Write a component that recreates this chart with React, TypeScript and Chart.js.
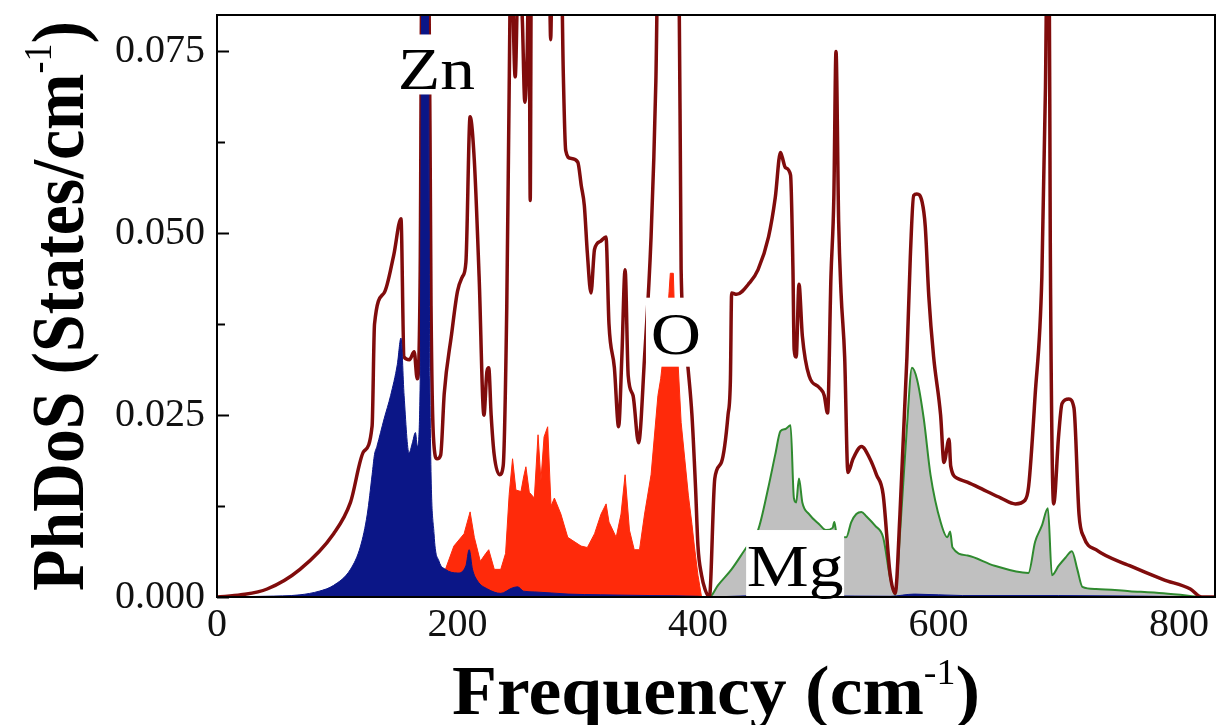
import React, { useEffect, useRef } from 'react';
import { Chart, registerables } from 'chart.js';

Chart.register(...registerables);

// ---------- Data (frequency in cm^-1, PhDoS in states/cm^-1) ----------
const totalFreq = [
  0, 20, 41.7, 69, 97, 111, 122, 129, 131, 139,
  147, 153, 155.5, 160, 164, 166.5, 169, 170.5, 176, 178,
  180, 183, 186, 189, 195, 200, 204, 207, 210.5, 214,
  218, 222, 224.5, 226, 228, 230.5, 235, 238, 241, 243,
  244.5, 248, 251, 254, 256, 258, 259.5, 260.5, 261.5, 276,
  277.5, 279, 286, 288, 290, 294, 300, 303, 305.5, 308,
  311, 314, 319, 323.5, 326, 330.5, 334, 336.7, 339.4, 342,
  346, 350.6, 355.6, 361, 365, 367, 384, 386, 389, 392,
  395, 398, 400, 403, 406, 409.5, 414, 419.5, 425, 427,
  428, 432, 443, 450, 458.7, 464.3, 468.6, 470, 472.8, 477,
  479, 480, 481.7, 484, 486.8, 492.4, 500.8, 505, 507.8, 510.6,
  513, 514.8, 517, 519, 522, 524.7, 529, 536, 543, 548.5,
  554, 559.7, 564, 568, 573.8, 576.6, 579.4, 582, 586.4, 589,
  592, 596, 601.8, 604.6, 608.8, 610.2, 616, 624, 638, 652,
  664, 672, 675, 680.4, 686, 689, 690.5, 692, 693, 695.8,
  700, 702.8, 708.5, 712.7, 716.9, 721, 731, 759, 787, 809.5,
  819, 830,
];
const totalDos = [
  0, 0.0003, 0.0011, 0.0038, 0.0087, 0.013, 0.02, 0.0235, 0.0375, 0.0418,
  0.047, 0.052, 0.033, 0.0326, 0.0337, 0.03, 0.045, 0.09, 0.09, 0.04,
  0.022, 0.019, 0.0195, 0.028, 0.036, 0.042, 0.044, 0.046, 0.066, 0.06,
  0.044, 0.025, 0.031, 0.0315, 0.025, 0.0196, 0.0168, 0.018, 0.04, 0.07,
  0.09, 0.0715, 0.09, 0.079, 0.068, 0.075, 0.09, 0.0545, 0.09, 0.09,
  0.0766, 0.09, 0.09, 0.072, 0.0614, 0.0603, 0.0598, 0.0565, 0.0538, 0.0473,
  0.0418, 0.0478, 0.0489, 0.0495, 0.0375, 0.0315, 0.0234, 0.033, 0.045, 0.0304,
  0.0277, 0.0212, 0.033, 0.0495, 0.071, 0.09, 0.09, 0.045, 0.036, 0.031,
  0.025, 0.015, 0.007, 0.003, 0.001, 0, 0.0163, 0.0185, 0.025, 0.03,
  0.0418, 0.0416, 0.0432, 0.045, 0.0495, 0.0549, 0.0611, 0.0605, 0.059, 0.058,
  0.045, 0.034, 0.033, 0.043, 0.0359, 0.0304, 0.0288, 0.0277, 0.0253, 0.044,
  0.0549, 0.075, 0.0516, 0.0418, 0.033, 0.0171, 0.019, 0.0207, 0.019, 0.0168,
  0.0141, 0.0033, 0.0005, 0.0114, 0.033, 0.0467, 0.0552, 0.0554, 0.0543, 0.051,
  0.0413, 0.033, 0.025, 0.0185, 0.0217, 0.018, 0.0163, 0.0158, 0.0147, 0.0136,
  0.0128, 0.0133, 0.0152, 0.0277, 0.044, 0.07, 0.09, 0.09, 0.049, 0.0128,
  0.0223, 0.0266, 0.0272, 0.026, 0.0114, 0.0082, 0.0065, 0.0043, 0.0024, 0.0011,
  0, 0,
];

const znFreq = [
  0, 40, 69, 85, 97, 111, 119.4, 125, 129, 131,
  133, 139, 144.4, 150, 153, 155.6, 159.7, 162.5, 165, 166.7,
  169, 170.5, 175.5, 177, 180.5, 184.7, 190, 200, 207, 209.7,
  212.5, 216.7, 225, 236, 245, 250, 255, 264, 292, 319,
  360, 400, 410, 450, 560, 580, 620, 700, 830,
];
const znDos = [
  0, 0.0001, 0.0003, 0.0008, 0.0016, 0.0038, 0.007, 0.0114, 0.0168, 0.0196,
  0.0207, 0.0245, 0.0277, 0.032, 0.0356, 0.0277, 0.0198, 0.0212, 0.0226, 0.0207,
  0.03, 0.09, 0.09, 0.03, 0.0087, 0.0049, 0.0038, 0.0033, 0.0043, 0.0065,
  0.0038, 0.0022, 0.0011, 0.0005, 0.0012, 0.0014, 0.0008, 0.0007, 0.0004, 0.0003,
  0.0002, 0.0001, 0, 0.0002, 0.0001, 0.0004, 0.0002, 0.0002, 0,
];

const oFreq = [
  0, 182, 186, 190, 197, 205.5, 210.5, 214, 219, 223.6,
  226, 230.6, 236, 240, 243, 245.8, 248.6, 252.8, 255, 256.9,
  259.7, 263.9, 267, 269.4, 272, 275, 277.8, 280.6, 286, 291.7,
  302.8, 308, 314, 319.4, 323.6, 326, 332, 336, 339.4, 343,
  347, 351.4, 355.6, 361, 366.7, 369, 371, 374, 376, 377,
  379.5, 380.5, 383.5, 386, 389, 392, 395, 397, 400, 403,
  430, 450, 480, 520, 560, 600, 660, 676, 690, 700,
  706, 716, 722, 830,
];
const oDos = [
  0, 0, 0.001, 0.0038, 0.007, 0.0087, 0.0117, 0.0082, 0.0049, 0.006,
  0.0065, 0.0038, 0.0038, 0.006, 0.0141, 0.019, 0.0147, 0.0145, 0.0165, 0.0179,
  0.0144, 0.0136, 0.0223, 0.016, 0.022, 0.0234, 0.0125, 0.0136, 0.0114, 0.0082,
  0.007, 0.0068, 0.0087, 0.0114, 0.0128, 0.0103, 0.0082, 0.0114, 0.0168, 0.0092,
  0.0065, 0.0065, 0.0114, 0.0168, 0.0277, 0.03, 0.033, 0.037, 0.042, 0.0445,
  0.0445, 0.039, 0.032, 0.024, 0.019, 0.014, 0.01, 0.007, 0.003, 0,
  0.0003, 0.0006, 0.0008, 0.0005, 0.0002, 0.0003, 0.0003, 0.0008, 0.001, 0.0006,
  0.0012, 0.0012, 0.0002, 0,
];

const mgFreq = [
  405, 409.6, 416.6, 427.9, 439, 450, 458.7, 464.3, 468.6, 472.8,
  477, 479.8, 481.7, 484, 486.8, 492.4, 500.8, 506.4, 512, 513.4,
  515, 523.3, 527.5, 531.7, 535.9, 540, 547.3, 554, 559.7, 564,
  568, 573.8, 578, 582.2, 587.8, 593.4, 601.8, 607.4, 609.7, 611.7,
  624.3, 646.7, 674.8, 680.4, 686, 691, 694.4, 700, 705.6, 711,
  715.5, 719.7, 731, 759, 787, 818,
];
const mgDos = [
  0, 0, 0.0016, 0.0038, 0.0065, 0.0092, 0.0152, 0.0196, 0.0228, 0.0231,
  0.0236, 0.0136, 0.013, 0.0163, 0.013, 0.0114, 0.01, 0.0092, 0.0095, 0.0103,
  0.009, 0.0082, 0.0103, 0.0114, 0.0117, 0.0111, 0.0098, 0.0082, 0.0027, 0.0003,
  0.0087, 0.0234, 0.0315, 0.0299, 0.0245, 0.0168, 0.0103, 0.0082, 0.009, 0.0068,
  0.0057, 0.0043, 0.0033, 0.0076, 0.0098, 0.0122, 0.003, 0.0043, 0.0054, 0.0063,
  0.0038, 0.0014, 0.0011, 0.0008, 0.0005, 0,
];

const xTickValues = [0, 200, 400, 600, 800];
const xTickLabels = ['0', '200', '400', '600', '800'];
const yTickValues = [0, 0.0125, 0.025, 0.0375, 0.05, 0.0625, 0.075];
const yTickLabels = ['0.000', '', '0.025', '', '0.050', '', '0.075'];

const speciesLabels = ['Zn', 'O', 'Mg'];
const speciesLabelFreq = [182.5, 381.7, 480.8];
const speciesLabelDos = [0.0732, 0.0364, 0.0046];

// ---------- Styling ----------
const SERIF = '"Liberation Serif", "Times New Roman", serif';
const labelBoxes = [
  { w: 92, h: 60 },
  { w: 60, h: 69 },
  { w: 98, h: 67 },
];
const labelBaselineOffset = [25, 22, 22];

type Part = { text: string; font: string; dy: number };

function drawParts(
  ctx: CanvasRenderingContext2D,
  parts: Part[],
  x: number,
  y: number,
  opts: { rotate?: boolean; sx?: number; sy?: number; width?: number }
) {
  ctx.save();
  const widths = parts.map((p) => {
    ctx.font = p.font;
    return ctx.measureText(p.text).width;
  });
  const total = widths.reduce((s, w) => s + w, 0);
  const sx = opts.width ? opts.width / total : opts.sx ?? 1;
  const sy = opts.sy ?? 1;
  ctx.translate(x, y);
  if (opts.rotate) ctx.rotate(-Math.PI / 2);
  ctx.scale(sx, sy);
  ctx.fillStyle = '#000';
  ctx.textAlign = 'left';
  ctx.textBaseline = 'alphabetic';
  let cx = -total / 2;
  parts.forEach((p, i) => {
    ctx.font = p.font;
    ctx.fillText(p.text, cx, p.dy);
    cx += widths[i];
  });
  ctx.restore();
}

const decorPlugin = {
  id: 'decor',
  afterDatasetsDraw(chart: any) {
    const { ctx, chartArea: a, scales } = chart;
    ctx.save();
    // species labels on white boxes
    speciesLabels.forEach((t, i) => {
      const cx = scales.x.getPixelForValue(speciesLabelFreq[i]);
      const cy = scales.y.getPixelForValue(speciesLabelDos[i]);
      const b = labelBoxes[i];
      ctx.fillStyle = '#ffffff';
      ctx.fillRect(cx - b.w / 2, cy - b.h / 2, b.w, b.h);
      drawParts(ctx, [{ text: t, font: `60px ${SERIF}`, dy: 0 }], cx, cy + labelBaselineOffset[i], { sx: 1.16 });
    });
    // frame
    ctx.strokeStyle = '#000';
    ctx.lineWidth = 2;
    ctx.strokeRect(a.left, a.top, a.right - a.left, a.bottom - a.top);
    // inward y ticks
    yTickValues.forEach((v, i) => {
      const py = Math.round(scales.y.getPixelForValue(v)) + 0.5;
      const len = yTickLabels[i] ? 12 : 8;
      ctx.beginPath();
      ctx.moveTo(a.left, py);
      ctx.lineTo(a.left + len, py);
      ctx.stroke();
    });
    ctx.restore();
  },
  afterDraw(chart: any) {
    const { ctx, chartArea: a } = chart;
    drawParts(
      ctx,
      [
        { text: 'Frequency (cm', font: `bold 70px ${SERIF}`, dy: 0 },
        { text: '-1', font: `36px ${SERIF}`, dy: -30 },
        { text: ')', font: `bold 70px ${SERIF}`, dy: 0 },
      ],
      (a.left + a.right) / 2,
      714,
      { width: 528 }
    );
    drawParts(
      ctx,
      [
        { text: 'PhDoS (States/cm', font: `bold 64px ${SERIF}`, dy: 0 },
        { text: '-1', font: `34px ${SERIF}`, dy: -28 },
        { text: ')', font: `bold 64px ${SERIF}`, dy: 0 },
      ],
      83,
      (a.top + a.bottom) / 2,
      { rotate: true, width: 570, sy: 1.15 }
    );
  },
};

const toPoints = (xs: number[], ys: number[]) => xs.map((x, i) => ({ x, y: ys[i] }));

export default function App() {
  const ref = useRef<HTMLCanvasElement>(null);

  useEffect(() => {
    if (!ref.current) return;
    const chart = new Chart(ref.current, {
      type: 'line',
      data: {
        datasets: [
          {
            label: 'Zn',
            data: toPoints(znFreq, znDos),
            borderColor: '#0b1687',
            backgroundColor: '#0b1687',
            borderWidth: 1,
            fill: 'origin',
            pointRadius: 0,
            order: 0,
            clip: 0,
            cubicInterpolationMode: 'monotone',
          },
          {
            label: 'Total',
            data: toPoints(totalFreq, totalDos),
            borderColor: '#800c0c',
            borderWidth: 3.5,
            borderJoinStyle: 'round',
            fill: false,
            pointRadius: 0,
            order: 1,
            clip: 0,
            cubicInterpolationMode: 'monotone',
          },
          {
            label: 'Mg',
            data: toPoints(mgFreq, mgDos),
            borderColor: '#2f8a2f',
            backgroundColor: '#c0c0c0',
            borderWidth: 2,
            fill: 'origin',
            pointRadius: 0,
            order: 2,
            clip: 0,
            cubicInterpolationMode: 'monotone',
          },
          {
            label: 'O',
            data: toPoints(oFreq, oDos),
            borderColor: '#ff2a0a',
            backgroundColor: '#ff2a0a',
            borderWidth: 1,
            fill: 'origin',
            pointRadius: 0,
            order: 3,
            clip: 0,
          },
        ] as any,
      },
      options: {
        animation: false,
        responsive: false,
        devicePixelRatio: 1,
        layout: { padding: { top: 15, right: 3, left: 0, bottom: 0 } },
        plugins: {
          legend: { display: false },
          tooltip: { enabled: false },
        },
        scales: {
          x: {
            type: 'linear',
            min: 0,
            max: 830,
            afterBuildTicks: (s: any) => {
              s.ticks = xTickValues.map((v) => ({ value: v }));
            },
            afterFit: (s: any) => {
              s.height = 128;
              s.paddingLeft = 0;
              s.paddingRight = 0;
            },
            grid: { display: false, drawTicks: false },
            border: { display: false },
            ticks: {
              autoSkip: false,
              maxRotation: 0,
              padding: 4,
              color: '#111',
              font: { family: SERIF, size: 40 },
              callback: (_v: any, i: number) => xTickLabels[i],
            },
          },
          y: {
            type: 'linear',
            min: 0,
            max: 0.08,
            afterBuildTicks: (s: any) => {
              s.ticks = yTickValues.map((v) => ({ value: v }));
            },
            afterFit: (s: any) => {
              s.width = 217;
              s.paddingTop = 0;
              s.paddingBottom = 0;
            },
            grid: { display: false, drawTicks: false },
            border: { display: false },
            ticks: {
              autoSkip: false,
              padding: 12,
              color: '#111',
              font: { family: SERIF, size: 40 },
              callback: (_v: any, i: number) => yTickLabels[i],
            },
          },
        },
      } as any,
      plugins: [decorPlugin],
    });
    return () => chart.destroy();
  }, []);

  return (
    <div style={{ position: 'fixed', left: 0, top: 0, width: 1218, height: 725, background: '#fff' }}>
      <canvas ref={ref} width={1218} height={725} style={{ display: 'block', width: 1218, height: 725 }} />
    </div>
  );
}
